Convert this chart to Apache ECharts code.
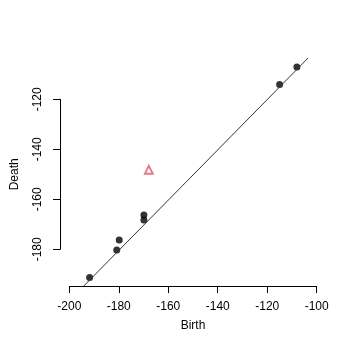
<!DOCTYPE html>
<html><head><meta charset="utf-8">
<script src="https://cdn.jsdelivr.net/npm/echarts@6/dist/echarts.min.js"></script>
<style>html,body{margin:0;padding:0;background:#fff}#c{width:360px;height:360px}</style>
</head><body><div id="c"></div>
<script>
const births = [-192, -181, -180, -170, -170, -115, -108];
const deaths = [-191, -180, -176, -168, -166, -114, -107];
const outlierBirth = [-168];
const outlierDeath = [-148];
const xTicks = [-200, -180, -160, -140, -120, -100];
const yTicks = [-180, -160, -140, -120];
const ablineIntercept = 0, ablineSlope = 1;

const xMin = -204, xMax = -96;
const yMin = -194.36, yMax = -103.64;
const font = 'Liberation Sans, Arial, sans-serif';

const pts = births.map((b, i) => [b, deaths[i]]);
const outl = outlierBirth.map((b, i) => [b, outlierDeath[i]]);
const abl = [xMin, xMax].map(x => [x, ablineIntercept + ablineSlope * x]);

const chart = echarts.init(document.getElementById('c'), null, {renderer: 'canvas'});
chart.setOption({
  animation: false,
  backgroundColor: '#fff',
  textStyle: {fontFamily: font},
  grid: [
    {left: 60, right: 33.5, top: 58.5, bottom: 74},
    {left: 69.3, right: 43.3, top: 58.5, bottom: 74},
    {left: 60, right: 33.5, top: 99.3, bottom: 110.7}
  ],
  xAxis: [
    {gridIndex: 0, type: 'value', min: xMin, max: xMax, show: false},
    {gridIndex: 1, type: 'value', min: xTicks[0], max: xTicks[xTicks.length - 1], interval: 20,
     name: 'Birth', nameLocation: 'middle', nameGap: 34,
     nameTextStyle: {color: '#000', fontSize: 12, fontFamily: font},
     axisLine: {lineStyle: {color: '#000', width: 1}},
     axisTick: {show: true, length: 7, lineStyle: {color: '#000'}},
     axisLabel: {color: '#000', fontSize: 12, margin: 15, fontFamily: font, showMinLabel: true, showMaxLabel: true},
     splitLine: {show: false}},
    {gridIndex: 2, type: 'value', min: xMin, max: xMax, show: false}
  ],
  yAxis: [
    {gridIndex: 0, type: 'value', min: yMin, max: yMax, show: false},
    {gridIndex: 1, type: 'value', min: yMin, max: yMax, show: false},
    {gridIndex: 2, type: 'value', min: yTicks[0], max: yTicks[yTicks.length - 1], interval: 20,
     name: 'Death', nameLocation: 'middle', nameGap: 39,
     nameTextStyle: {color: '#000', fontSize: 12, fontFamily: font},
     axisLine: {show: true, lineStyle: {color: '#000', width: 1}},
     axisTick: {show: true, length: 7, lineStyle: {color: '#000'}},
     axisLabel: {color: '#000', fontSize: 12, margin: 16, rotate: 90, fontFamily: font, showMinLabel: true, showMaxLabel: true},
     splitLine: {show: false}}
  ],
  series: [
    {type: 'line', xAxisIndex: 0, yAxisIndex: 0, data: abl, symbol: 'none', clip: true,
     lineStyle: {color: '#333', width: 1}, silent: true},
    {type: 'scatter', xAxisIndex: 0, yAxisIndex: 0, data: pts, symbol: 'circle', symbolSize: 7,
     itemStyle: {color: '#000'}},
    {type: 'scatter', xAxisIndex: 0, yAxisIndex: 0, data: outl, symbol: 'triangle', symbolSize: 8,
     itemStyle: {color: 'rgba(0,0,0,0)', borderColor: '#DF536B', borderWidth: 1.8}}
  ]
});
</script></body></html>
